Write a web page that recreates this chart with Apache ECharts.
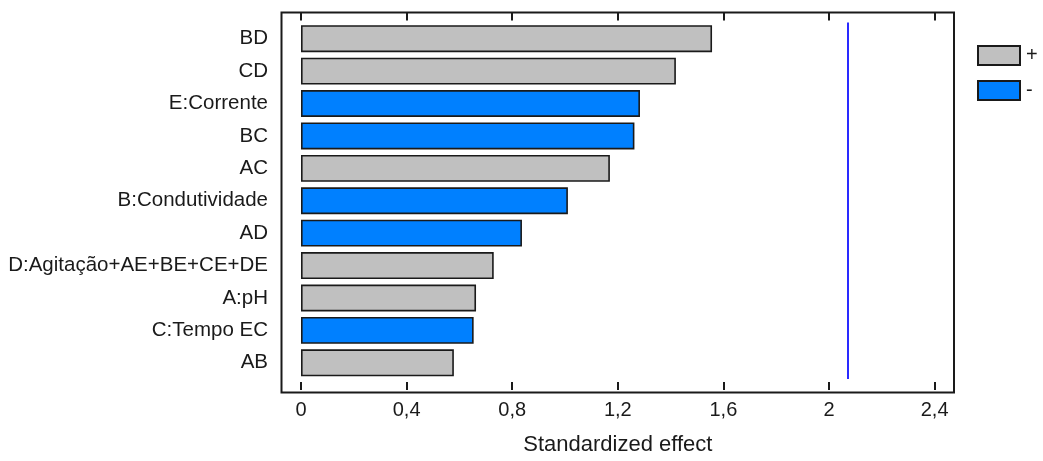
<!DOCTYPE html>
<html>
<head>
<meta charset="utf-8">
<script src="https://cdn.jsdelivr.net/npm/echarts@6/dist/echarts.min.js"></script>
<style>html,body{margin:0;padding:0;background:#fff}#c{width:1043px;height:461px}</style>
</head>
<body>
<div id="c"></div>
<script>
const categories = ['BD', 'CD', 'E:Corrente', 'BC', 'AC', 'B:Condutividade', 'AD', 'D:Agitação+AE+BE+CE+DE', 'A:pH', 'C:Tempo EC', 'AB'];
const effects = [1.557, 1.420, 1.284, 1.263, 1.170, 1.011, 0.837, 0.730, 0.663, 0.654, 0.579];
const signs = ['+', '+', '-', '-', '+', '-', '-', '+', '+', '-', '+'];
const criticalValue = 2.071;
const xMin = 0, xMax = 2.4, xStep = 0.4;
const axisTitle = 'Standardized effect';

const FONT = "'Liberation Sans', Arial, sans-serif";
const TXT = '#1a1a1a';
const colors = {'+': '#c0c0c0', '-': '#0080ff'};
const fmt = v => String(+(+v).toFixed(1)).replace('.', ',');

const series = ['+', '-'].map(s => ({
  name: s,
  type: 'bar',
  stack: 'eff',
  barCategoryGap: '17%',
  data: effects.map((v, i) => signs[i] === s ? v : '-'),
  itemStyle: {color: colors[s], borderColor: '#1a1a1a', borderWidth: 1.6},
  emphasis: {disabled: true}
}));
series[0].markLine = {
  silent: true,
  symbol: 'none',
  label: {show: false},
  lineStyle: {color: '#2a2aff', width: 2, type: 'solid'},
  data: [{xAxis: criticalValue}]
};

const chart = echarts.init(document.getElementById('c'), null, {renderer: 'canvas'});
chart.setOption({
  animation: false,
  textStyle: {fontFamily: FONT},
  grid: {left: 301, right: 108.4, top: 22.5, bottom: 79.4},
  legend: {
    orient: 'vertical', left: 972, top: 40,
    itemWidth: 42, itemHeight: 19, itemGap: 14,
    icon: 'rect',
    textStyle: {fontFamily: FONT, fontSize: 20, color: TXT, padding: [0, 0, 0, 1]},
    itemStyle: {borderColor: '#1a1a1a', borderWidth: 2},
    data: ['+', '-']
  },
  xAxis: [{
    type: 'value', position: 'bottom', min: xMin, max: xMax, interval: xStep, offset: 11,
    axisLine: {show: false},
    axisTick: {show: true, inside: true, length: 8, lineStyle: {color: '#1a1a1a', width: 2}},
    splitLine: {show: false},
    axisLabel: {formatter: fmt, fontFamily: FONT, fontSize: 20, color: TXT, margin: 10},
    name: axisTitle, nameLocation: 'middle', nameGap: 44,
    nameTextStyle: {fontFamily: FONT, fontSize: 22, color: TXT}
  }, {
    type: 'value', position: 'top', min: xMin, max: xMax, interval: xStep, offset: 10,
    axisLine: {show: false},
    axisTick: {show: true, inside: true, length: 8, lineStyle: {color: '#1a1a1a', width: 2}},
    splitLine: {show: false},
    axisLabel: {show: false}
  }],
  yAxis: {
    type: 'category', data: categories, inverse: true,
    axisLine: {show: false}, axisTick: {show: false},
    axisLabel: {fontFamily: FONT, fontSize: 20.5, color: TXT, margin: 33}
  },
  graphic: [{
    type: 'rect', silent: true, z: 10,
    shape: {x: 281.5, y: 12.5, width: 672.5, height: 380},
    style: {fill: 'none', stroke: '#1a1a1a', lineWidth: 2}
  }],
  series: series
});
</script>
</body>
</html>
